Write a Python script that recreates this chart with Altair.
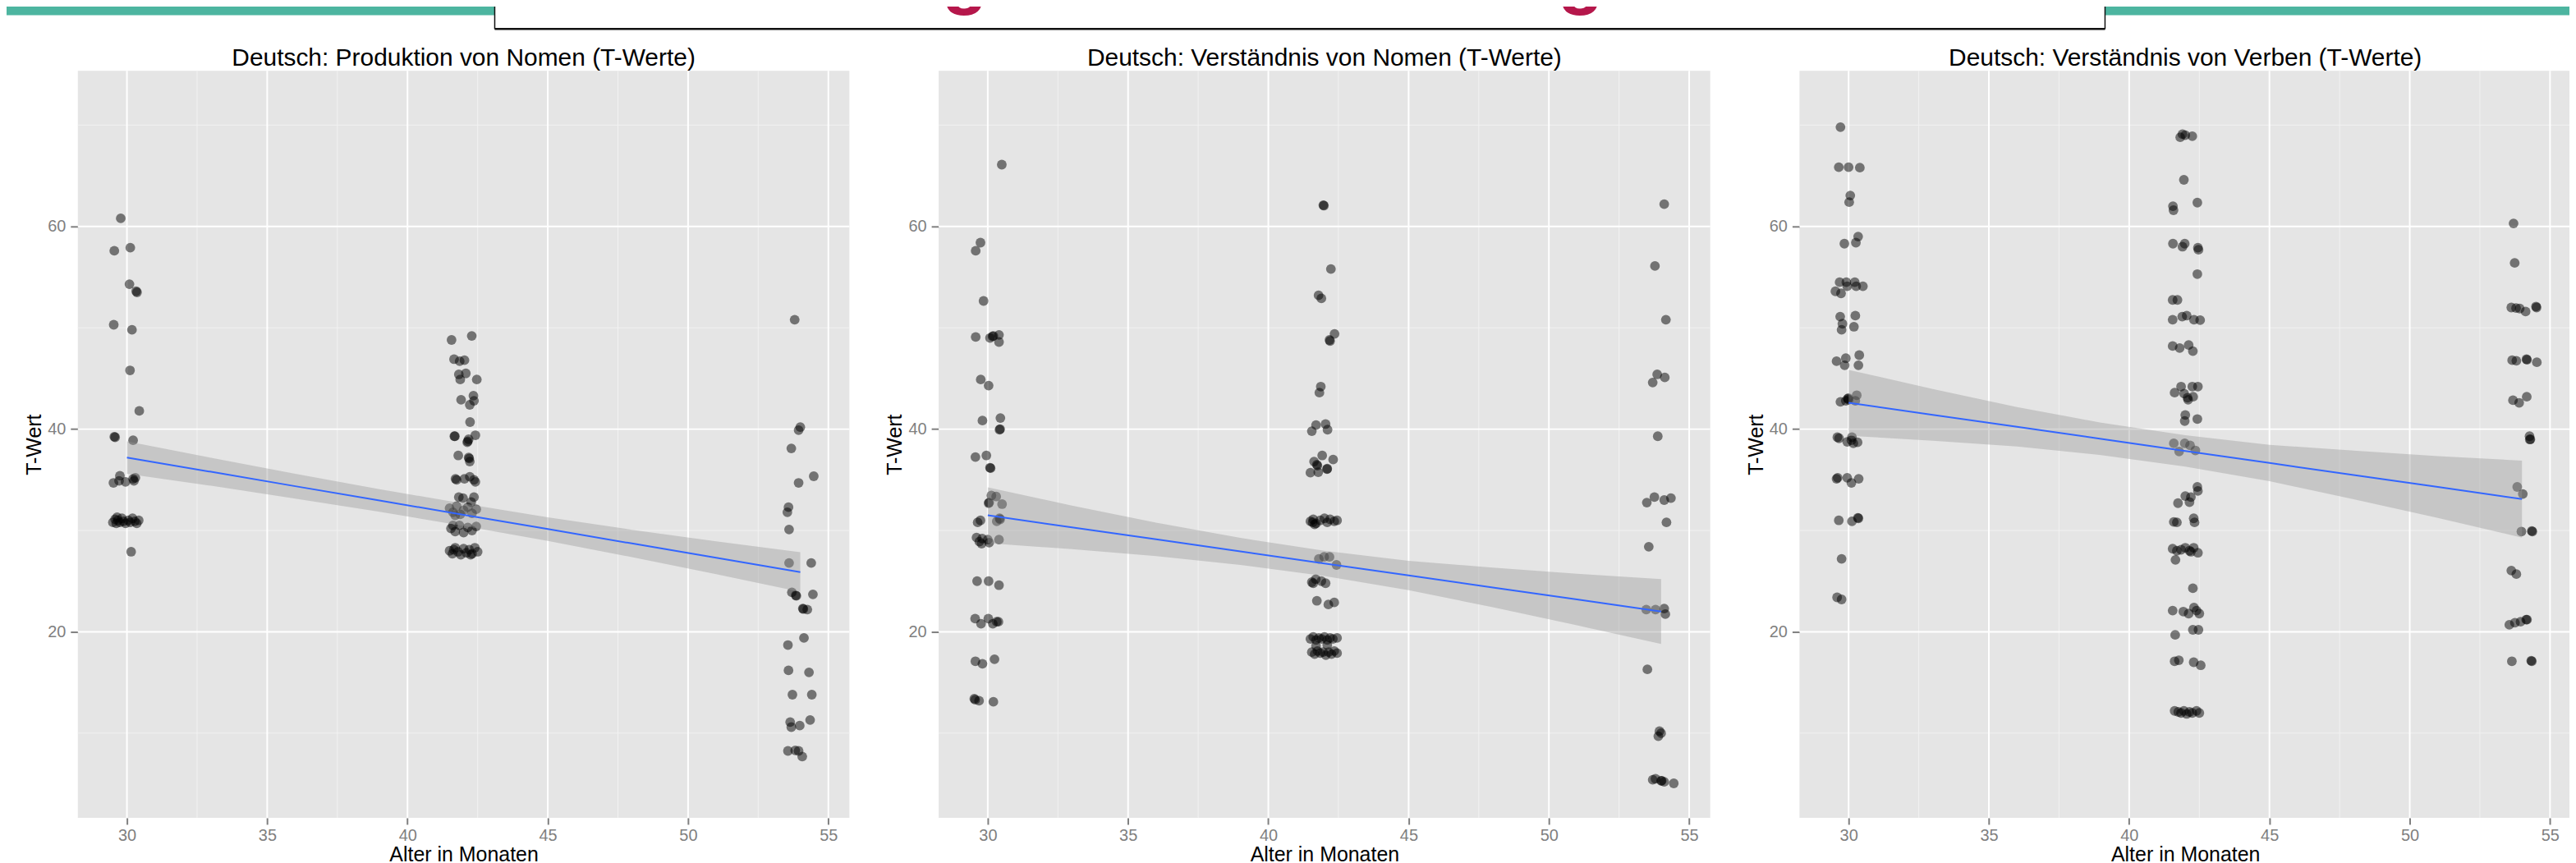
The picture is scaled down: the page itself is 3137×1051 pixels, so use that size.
import altair as alt
import pandas as pd

FONT = "Liberation Sans"

panel_titles = [
    "Deutsch: Produktion von Nomen (T-Werte)",
    "Deutsch: Verständnis von Nomen (T-Werte)",
    "Deutsch: Verständnis von Verben (T-Werte)",
]
x_title = "Alter in Monaten"
y_title = "T-Wert"

x_ticks = [30, 35, 40, 45, 50, 55]
y_ticks = [20, 40, 60]
x_minor = [32.5, 37.5, 42.5, 47.5, 52.5]
y_minor = [10, 30, 50, 70]
x_domain = [28.25, 55.75]
y_domain = [1.65, 75.35]

# ---- Panel 1: Produktion von Nomen ----
p1_x = [29.78, 29.55, 30.12, 30.09, 30.33, 30.36, 29.53, 30.18, 30.11, 30.44, 29.58, 29.55, 30.22,
        29.52, 29.75, 29.72, 29.95, 30.22, 30.25, 30.30,
        29.50, 29.58, 29.62, 29.68, 29.75, 29.82, 29.88, 29.95, 30.05, 30.12, 30.20, 30.28, 30.35, 30.42, 29.65,
        30.15,
        41.57, 42.29, 41.66, 41.86, 42.03, 41.83, 42.08, 41.88, 42.47, 41.91, 42.35, 42.37, 42.22, 42.23,
        41.67, 41.69, 42.13, 42.15, 42.18, 42.42, 41.81, 42.18, 42.20, 42.22,
        41.71, 41.75, 42.03, 42.22, 42.37, 42.42,
        41.83, 41.98, 42.37, 42.27,
        41.50, 41.62, 41.75, 41.88, 42.00, 42.15, 42.30, 42.45, 41.70,
        41.55, 41.70, 41.85, 42.00, 42.15, 42.30, 42.45, 41.62,
        41.50, 41.60, 41.70, 41.80, 41.90, 42.00, 42.10, 42.20, 42.30, 42.40, 42.50, 41.65, 42.25,
        53.80, 54.00, 53.94, 53.68, 54.48, 53.94, 53.58, 53.54, 53.60, 53.60, 54.39, 53.70, 53.84, 53.86,
        54.45, 54.09, 54.11, 54.25, 54.13, 53.56, 53.58, 54.31, 53.72, 54.41, 53.64, 53.68, 53.98, 54.35,
        53.56, 53.82, 53.94, 54.07]
p1_y = [60.8, 57.6, 57.9, 54.3, 53.6, 53.5, 50.3, 49.8, 45.8, 41.8, 39.2, 39.25, 38.9,
        34.7, 35.4, 34.9, 34.8, 35.1, 34.9, 35.2,
        30.8, 31.1, 30.7, 31.0, 30.8, 31.2, 30.9, 30.7, 31.0, 30.8, 31.2, 30.9, 30.7, 31.0, 31.3,
        27.9,
        48.8, 49.2, 46.9, 46.7, 46.8, 45.4, 45.5, 44.9, 44.9, 42.9, 43.3, 42.8, 42.4, 40.7,
        39.3, 39.3, 38.7, 38.8, 39.0, 39.4, 37.4, 37.2, 37.1, 36.8,
        35.1, 35.0, 35.1, 35.3, 35.0, 34.8,
        33.3, 33.2, 33.3, 32.8,
        32.2, 31.8, 32.4, 31.6, 32.0, 32.3, 31.7, 32.1, 31.5,
        30.2, 29.9, 30.5, 29.8, 30.3, 30.0, 30.4, 30.5,
        28.0, 27.7, 28.3, 27.9, 27.6, 28.2, 27.8, 28.1, 27.7, 28.3, 27.9, 28.1, 27.6,
        50.8, 40.2, 39.9, 38.1, 35.35, 34.7, 32.3, 31.8, 30.1, 26.8, 26.8, 23.9, 23.6, 23.55,
        23.7, 22.3, 22.25, 22.2, 19.4, 18.7, 16.2, 16.0, 13.8, 13.8, 11.1, 10.6, 10.75, 11.3,
        8.25, 8.3, 8.25, 7.7]

# ---- Panel 2: Verständnis von Nomen ----
p2_x = [30.50, 29.74, 29.57, 29.85, 29.57, 30.08, 30.17, 30.20, 30.40, 30.40, 29.75, 30.03, 29.81, 30.45,
        30.42, 30.44, 29.56, 29.95, 30.08, 30.10, 30.13, 30.30, 30.03, 30.05, 30.51, 29.64, 29.74, 30.32,
        30.42, 30.44,
        29.60, 29.70, 29.80, 29.78, 30.00, 30.05, 30.40,
        29.62, 30.03, 30.40,
        29.55, 29.76, 30.02, 30.18, 30.32, 30.38,
        29.56, 29.81, 30.24,
        29.52, 29.55, 29.69, 30.20,
        41.96, 41.98, 42.23, 41.79, 41.89, 42.36, 42.18, 42.20, 41.87, 41.82, 41.70, 41.55, 42.04, 42.11,
        41.92, 42.31, 41.63, 41.73, 41.75, 42.09, 42.10, 41.50, 41.78,
        41.50, 41.60, 41.70, 41.85, 42.00, 42.10, 42.20, 42.35, 42.45, 41.65, 41.58,
        41.80, 41.99, 42.18, 42.43,
        41.55, 41.69, 41.89, 42.04, 41.60,
        41.73, 42.14, 42.35,
        41.50, 41.60, 41.70, 41.80, 41.90, 42.00, 42.10, 42.20, 42.30, 42.45,
        41.55, 41.65, 41.75, 41.85, 41.95, 42.05, 42.15, 42.25, 42.35, 42.45, 41.70, 42.10,
        54.11, 53.78, 54.17, 53.86, 53.70, 54.13, 53.88, 53.49, 53.76, 54.11, 54.35, 54.19, 53.56,
        53.47, 53.80, 54.11, 54.15, 53.51, 53.94, 53.90, 54.00, 53.70, 53.80, 54.00, 54.02, 54.11, 54.45]
p2_y = [66.1, 58.4, 57.6, 52.65, 49.1, 49.0, 49.15, 49.2, 49.3, 48.6, 44.9, 44.3, 40.85, 41.1,
        39.95, 40.0, 37.25, 37.4, 36.2, 36.15, 33.45, 33.35, 32.7, 32.75, 32.6, 30.8, 31.0, 30.9,
        31.2, 31.1,
        29.3, 28.9, 29.2, 28.7, 29.1, 28.8, 29.1,
        25.0, 25.0, 24.6,
        21.3, 20.8, 21.3, 20.8, 21.0, 21.0,
        17.1, 16.85, 17.3,
        13.4, 13.3, 13.2, 13.1,
        62.1, 62.05, 55.8, 53.2, 52.9, 49.4, 48.8, 48.7, 44.2, 43.6, 40.4, 39.8, 40.5, 39.95,
        37.4, 37.0, 36.8, 36.5, 36.4, 36.05, 36.1, 35.7, 35.75,
        30.9, 31.1, 30.7, 31.0, 31.2, 30.8, 31.1, 30.9, 31.0, 30.6, 30.8,
        27.2, 27.4, 27.4, 26.6,
        24.9, 25.2, 25.0, 24.8, 24.8,
        23.06, 22.7, 22.9,
        19.3, 19.5, 19.2, 19.4, 19.3, 19.5, 19.2, 19.4, 19.3, 19.4,
        18.0, 17.8, 18.1, 17.9, 18.0, 17.7, 18.0, 17.8, 18.1, 17.9, 18.6, 18.7,
        62.2, 56.1, 50.8, 45.4, 44.6, 45.1, 39.3, 32.75, 33.3, 33.0, 33.2, 30.8, 28.4,
        22.2, 22.2, 22.3, 21.75, 16.3, 10.2, 9.7, 10.0, 5.4, 5.5, 5.3, 5.3, 5.2, 5.05]

# ---- Panel 3: Verständnis von Verben ----
p3_x = [29.71, 29.65, 30.00, 30.40, 30.06, 30.02, 30.34, 29.85, 30.26,
        29.53, 29.68, 29.73, 29.92, 29.95, 30.22, 30.27, 30.51,
        29.70, 30.24, 29.78, 29.75, 30.19,
        29.57, 29.90, 29.86, 30.38, 30.35,
        29.71, 29.90, 29.97, 29.99, 30.00, 30.29, 30.24,
        29.60, 29.66, 29.95, 30.12, 30.17, 30.32, 30.10,
        29.57, 29.61, 29.95, 30.10, 30.36,
        29.65, 30.12, 30.33, 30.35,
        29.75, 29.59, 29.75,
        41.82, 41.90, 42.00, 42.25, 41.95, 41.56, 41.58, 42.43,
        41.56, 41.98, 41.90, 42.45, 42.47, 42.43,
        41.55, 41.72,
        41.55, 41.89, 42.05, 42.31, 42.53,
        41.55, 41.80, 42.12, 42.27,
        41.62, 41.85, 41.96, 42.08, 42.10, 42.25, 42.45, 42.28,
        42.00, 41.98, 42.43,
        41.59, 41.98, 42.17, 41.78, 42.36,
        42.43, 42.45, 42.20, 42.00, 41.74, 42.15,
        41.59, 41.70, 42.30, 42.33,
        41.55, 41.70, 41.85, 42.00, 42.15, 42.30, 42.45, 41.65, 42.20,
        42.27,
        41.55, 41.93, 42.12, 42.31, 42.40, 42.50,
        42.27, 42.47, 41.64,
        41.62, 41.77, 42.30, 42.55,
        41.62, 41.75, 41.85, 41.95, 42.05, 42.15, 42.25, 42.40, 42.50,
        53.70, 53.74,
        53.62, 53.79, 53.92, 54.13, 54.50, 54.52,
        53.65, 53.80, 54.16, 54.18, 54.53,
        53.68, 53.90, 54.17,
        54.28, 54.30, 54.27,
        53.83, 54.03,
        53.98, 54.35, 54.37,
        53.62, 53.80,
        53.55, 53.75, 53.95, 54.15, 54.18,
        53.64, 54.33, 54.35]
p3_y = [69.8, 65.85, 65.85, 65.8, 63.05, 62.4, 59.0, 58.3, 58.4,
        53.6, 54.5, 53.4, 54.5, 54.1, 54.5, 54.1, 54.1,
        51.1, 51.2, 50.4, 49.8, 50.1,
        46.7, 47.0, 46.3, 47.3, 46.3,
        42.7, 42.8, 43.0, 43.05, 42.9, 43.35, 42.8,
        39.2, 39.1, 38.75, 39.2, 38.6, 38.7, 38.9,
        35.1, 35.2, 35.2, 34.7, 35.1,
        31.0, 30.9, 31.25, 31.2,
        27.2, 23.4, 23.2,
        68.8, 69.1, 69.0, 68.9, 64.6, 62.0, 61.6, 62.35,
        58.3, 58.3, 58.0, 57.9, 57.7, 55.3,
        52.75, 52.75,
        50.8, 51.1, 51.2, 50.8, 50.75,
        48.2, 48.0, 48.3, 47.7,
        43.6, 44.2, 43.5, 43.1, 42.9, 44.2, 44.2, 43.2,
        41.4, 40.8, 41.0,
        38.6, 38.6, 38.4, 37.8, 37.9,
        34.3, 33.9, 33.3, 33.4, 32.7, 32.8,
        30.85, 30.8, 31.2, 30.8,
        28.2, 28.0, 28.1, 28.3, 28.0, 28.3, 27.8, 27.1, 27.9,
        24.3,
        22.1, 22.0, 21.8, 22.4, 22.1, 21.8,
        20.2, 20.2, 19.7,
        17.1, 17.2, 17.0, 16.7,
        12.2, 12.1, 12.0, 12.2, 11.9, 12.1, 12.0, 12.2, 12.0,
        60.3, 56.4,
        52.0, 51.95, 51.9, 51.6, 52.1, 52.0,
        46.8, 46.75, 46.9, 46.85, 46.6,
        42.85, 42.6, 43.2,
        38.98, 39.0, 39.3,
        34.3, 33.6,
        29.9, 29.95, 29.9,
        26.05, 25.7,
        20.7, 20.9, 21.0, 21.2, 21.2,
        17.1, 17.15, 17.1]

# ---- linear fit with confidence band ----
smooth_x = [30, 33, 36, 39, 42, 45, 48, 51, 54]
p1_fit = [37.2, 35.79, 34.37, 32.96, 31.55, 30.14, 28.72, 27.31, 25.9]
p1_lo = [35.6, 34.41, 33.15, 31.84, 30.45, 28.97, 27.37, 25.69, 23.95]
p1_hi = [38.8, 37.17, 35.59, 34.08, 32.65, 31.31, 30.07, 28.93, 27.85]
p2_fit = [31.5, 30.31, 29.13, 27.94, 26.75, 25.56, 24.38, 23.19, 22.0]
p2_lo = [28.75, 28.16, 27.48, 26.61, 25.5, 24.11, 22.43, 20.64, 18.8]
p2_hi = [34.25, 32.46, 30.78, 29.27, 28.0, 27.01, 26.33, 25.74, 25.2]
p3_fit = [42.6, 41.41, 40.23, 39.04, 37.85, 36.66, 35.48, 34.29, 33.1]
p3_lo = [39.35, 38.86, 38.28, 37.44, 36.3, 34.86, 33.08, 31.24, 29.3]
p3_hi = [45.85, 43.96, 42.18, 40.64, 39.4, 38.46, 37.88, 37.34, 36.9]

W, H = 942, 912
GAP = 109
ORIGIN_X, ORIGIN_Y = 95, 84   # page position of the first plot area
SVG_W, SVG_H = 3129, 1043
one = pd.DataFrame({"d": [0]})


def rx(page_x):
    return page_x - ORIGIN_X


def ry(page_y):
    return page_y - ORIGIN_Y


def axis_x():
    return alt.Axis(values=x_ticks, grid=False, domain=False, ticks=True,
                    tickColor="#7F7F7F", tickSize=8, tickWidth=2,
                    labelColor="#7F7F7F", labelFontSize=20, labelFont=FONT,
                    labelPadding=4, titleFont=FONT, titleFontSize=25,
                    titleFontWeight="normal", titleColor="black",
                    titleBaseline="alphabetic", titleY=53)


def axis_y():
    return alt.Axis(values=y_ticks, grid=False, domain=False, ticks=True,
                    tickColor="#7F7F7F", tickSize=9, tickWidth=2,
                    labelColor="#7F7F7F", labelFontSize=20, labelFont=FONT,
                    labelPadding=6, titleFont=FONT, titleFontSize=25,
                    titleFontWeight="normal", titleColor="black", titlePadding=3)


def panel(title, xs, ys, fit, lo, hi, extra=None):
    xs_ = alt.Scale(domain=x_domain, nice=False, zero=False)
    ys_ = alt.Scale(domain=y_domain, nice=False, zero=False)

    def X(field):
        return alt.X(field, scale=xs_, axis=axis_x(), title=x_title)

    def Y(field):
        return alt.Y(field, scale=ys_, axis=axis_y(), title=y_title)

    minor_v = alt.Chart(pd.DataFrame({"x": x_minor})).mark_rule(
        color="#F2F2F2", strokeWidth=1).encode(x=X("x:Q"))
    minor_h = alt.Chart(pd.DataFrame({"y": y_minor})).mark_rule(
        color="#F2F2F2", strokeWidth=1).encode(y=Y("y:Q"))
    major_v = alt.Chart(pd.DataFrame({"x": x_ticks})).mark_rule(
        color="white", strokeWidth=2).encode(x=X("x:Q"))
    major_h = alt.Chart(pd.DataFrame({"y": y_ticks})).mark_rule(
        color="white", strokeWidth=2).encode(y=Y("y:Q"))

    pts = alt.Chart(pd.DataFrame({"x": xs, "y": ys})).mark_circle(
        size=140, color="black", opacity=0.5).encode(x=X("x:Q"), y=Y("y:Q"))

    sm = pd.DataFrame({"x": smooth_x, "fit": fit, "lo": lo, "hi": hi})
    band = alt.Chart(sm).mark_area(color="#999999", opacity=0.4).encode(
        x=X("x:Q"), y=Y("lo:Q"), y2="hi:Q")
    line = alt.Chart(sm).mark_line(color="#3366FF", strokeWidth=2).encode(
        x=X("x:Q"), y=Y("fit:Q"))

    ttl = alt.Chart(pd.DataFrame({"t": [title]})).mark_text(
        font=FONT, fontSize=30, color="black", align="center",
        baseline="alphabetic").encode(
        text="t:N", x=alt.value(W / 2), y=alt.value(-6.6))

    layers = [minor_v, minor_h, major_v, major_h, pts, band, line, ttl]
    if extra:
        layers += extra
    return alt.layer(*layers).properties(width=W, height=H)


# ---- slide decoration: teal band and the lower edge of the title box ----
teal = "#4DB5A0"
magenta = "#B5174B"
title_box_glyphs = ["g", "g"]
glyph_page_x = [1178, 1930]
deco = [
    alt.Chart(one).mark_rect(color=teal).encode(
        x=alt.value(rx(0)), x2=alt.value(rx(604)), y=alt.value(ry(0)), y2=alt.value(ry(16))),
    alt.Chart(one).mark_rect(color=teal).encode(
        x=alt.value(rx(2570)), x2=alt.value(rx(3140)), y=alt.value(ry(0)), y2=alt.value(ry(16))),
    alt.Chart(one).mark_rule(color="#111111", strokeWidth=1.5).encode(
        x=alt.value(rx(604)), y=alt.value(ry(0)), y2=alt.value(ry(33))),
    alt.Chart(one).mark_rule(color="#111111", strokeWidth=1.5).encode(
        x=alt.value(rx(2570)), y=alt.value(ry(0)), y2=alt.value(ry(33))),
    alt.Chart(one).mark_rule(color="#111111", strokeWidth=2.5).encode(
        x=alt.value(rx(604)), x2=alt.value(rx(2570)), y=alt.value(ry(32.7))),
]
for g, gx in zip(title_box_glyphs, glyph_page_x):
    deco.append(
        alt.Chart(pd.DataFrame({"g": [g]})).mark_text(
            font=FONT, fontSize=92, fontWeight="bold", color=magenta, align="center",
            baseline="alphabetic").encode(
            text="g:N", x=alt.value(rx(gx)), y=alt.value(ry(-3))))

chart = alt.hconcat(
    panel(panel_titles[0], p1_x, p1_y, p1_fit, p1_lo, p1_hi, extra=deco),
    panel(panel_titles[1], p2_x, p2_y, p2_fit, p2_lo, p2_hi),
    panel(panel_titles[2], p3_x, p3_y, p3_fit, p3_lo, p3_hi),
    spacing=GAP, bounds="flush",
).properties(
    autosize=alt.AutoSizeParams(type="none"),
    padding={"left": ORIGIN_X - 8, "top": ORIGIN_Y - 8,
             "right": SVG_W - (ORIGIN_X - 8), "bottom": SVG_H - (ORIGIN_Y - 8)},
).configure(background="white").configure_view(stroke=None, fill="#E5E5E5")

chart.save("out.html", embed_options={"renderer": "svg", "actions": False})
